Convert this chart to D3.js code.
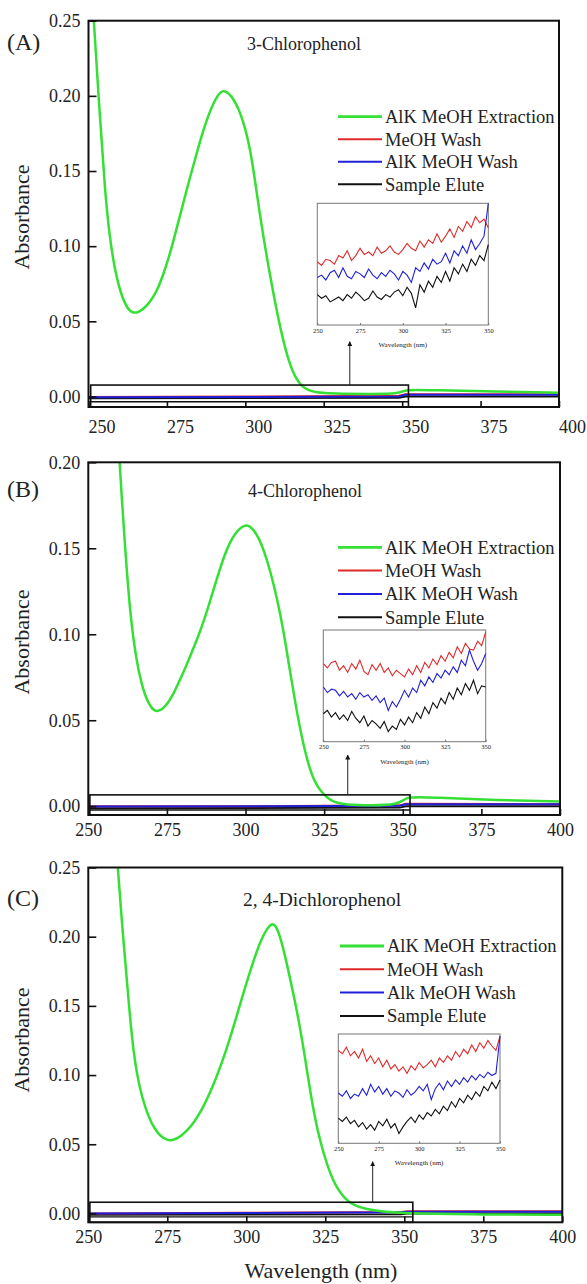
<!DOCTYPE html>
<html>
<head>
<meta charset="utf-8">
<script src="https://cdn.jsdelivr.net/npm/d3@7"></script>
<style>
  body { margin: 0; background: #fff; }
  svg text { font-family: "Liberation Serif", "Times New Roman", serif; fill: #222; }
</style>
</head>
<body>
<svg id="chart" width="587" height="1284" font-family="Liberation Serif, Times New Roman, serif"></svg>
<script>
// ---- data ----
const xTicks = [250, 275, 300, 325, 350, 375, 400]
const yTicksA = [0, 0.05, 0.10, 0.15, 0.20, 0.25]
const yTicksB = [0, 0.05, 0.10, 0.15, 0.20]
const yTicksC = [0, 0.05, 0.10, 0.15, 0.20, 0.25]
const insetTicks = [250, 275, 300, 325, 350]

const namesAB = ['AlK MeOH Extraction', 'MeOH Wash', 'AlK MeOH Wash', 'Sample Elute']
const namesC = ['AlK MeOH Extraction', 'MeOH Wash', 'Alk MeOH Wash', 'Sample Elute']

// AlK MeOH Extraction curves
const waveA = [250.5, 251.7, 253.5, 255.3, 256.8, 258.5, 260.5, 262.5, 264.3, 266, 268, 270, 272, 274, 276, 278, 280, 282, 284, 286, 288, 290, 291.5, 292.7, 294, 295.5, 297, 298.5, 300, 301.5, 303, 304.5, 306, 307.5, 309, 310.5, 312, 313.5, 315, 316.5, 318, 320, 322.5, 325, 330, 340, 349.5, 350.5, 360, 380, 400]
const extA = [0.29, 0.25, 0.19, 0.135, 0.105, 0.083, 0.067, 0.058, 0.0553, 0.0562, 0.059, 0.064, 0.071, 0.082, 0.095, 0.111, 0.127, 0.143, 0.158, 0.173, 0.186, 0.196, 0.2012, 0.2035, 0.2028, 0.200, 0.195, 0.188, 0.178, 0.165, 0.145, 0.123, 0.103, 0.085, 0.068, 0.052, 0.038, 0.026, 0.017, 0.011, 0.0068, 0.0042, 0.0028, 0.0022, 0.0018, 0.0016, 0.0018, 0.0048, 0.0042, 0.0032, 0.0025]

const waveB = [258.8, 259.9, 261.7, 263.3, 265, 267, 269, 271, 273, 275, 277, 279, 281, 283, 285, 287, 289, 291, 293, 295, 297, 299, 300.5, 302, 304, 306, 308, 310, 312, 314, 316, 318, 320, 322, 324, 326, 328, 331, 336, 349.5, 350.5, 360, 380, 400]
const extB = [0.24, 0.20, 0.15, 0.112, 0.088, 0.070, 0.060, 0.055, 0.0555, 0.059, 0.065, 0.073, 0.081, 0.090, 0.099, 0.109, 0.121, 0.133, 0.1445, 0.1535, 0.1595, 0.1628, 0.1637, 0.162, 0.157, 0.148, 0.136, 0.121, 0.103, 0.080, 0.058, 0.039, 0.024, 0.014, 0.0085, 0.0048, 0.0025, 0.0012, 0.0005, 0.0005, 0.0060, 0.0050, 0.0035, 0.0027]

const waveC = [258.5, 259.3, 261, 262.7, 264, 265.5, 267, 269, 271, 273, 275, 276.5, 278.5, 281, 283.5, 286, 288.5, 291, 293.5, 296, 298.5, 301, 303, 305, 306.8, 308, 309.3, 310.8, 312.5, 314.5, 316.5, 318.5, 320.5, 322.5, 324.5, 326.5, 328.5, 331, 334, 338, 343, 350, 375, 400]
const extC = [0.28, 0.25, 0.20, 0.155, 0.122, 0.099, 0.084, 0.070, 0.061, 0.0555, 0.053, 0.0528, 0.0545, 0.059, 0.066, 0.075, 0.087, 0.101, 0.117, 0.135, 0.155, 0.1735, 0.1875, 0.1995, 0.2065, 0.2095, 0.2085, 0.1995, 0.184, 0.163, 0.141, 0.114, 0.084, 0.060, 0.043, 0.029, 0.019, 0.011, 0.0058, 0.003, 0.0013, 0.0, -0.0008, -0.001]

// washes / elute near zero in the main plots
const baseWave = [250, 300, 349, 351, 400]
const redA = [-0.0003, 0.0, 0.0005, 0.0015, 0.0015]
const blueA = [-0.0005, -0.0003, 0.0, 0.0012, 0.0012]
const blackA = [-0.0012, -0.001, -0.0008, 0.0, 0.0]
const redB = [0.0, 0.0, 0.0005, 0.0015, 0.0012]
const blueB = [-0.0002, 0.0, 0.0003, 0.0012, 0.0012]
const blackB = [-0.0012, -0.001, -0.0008, 0.0, 0.0]
const redC = [0.0, 0.0005, 0.001, 0.0015, 0.0015]
const blueC = [0.0, 0.0003, 0.0008, 0.0013, 0.0013]
const blackC = [-0.001, -0.0008, -0.0005, 0.0, 0.0]

// insets (relative height of the inset box, 0-100)
const insetWave = [250, 252.5, 255, 257.5, 260, 262.5, 265, 267.5, 270, 272.5, 275, 277.5, 280, 282.5, 285, 287.5, 290, 292.5, 295, 297.5, 300, 302.5, 305, 307.5, 310, 312.5, 315, 317.5, 320, 322.5, 325, 327.5, 330, 332.5, 335, 337.5, 340, 342.5, 345, 347.5, 350]
const insRedA = [52, 49, 54, 53, 50, 57, 55, 61, 53, 57, 63, 58, 60, 57, 64, 59, 61, 65, 60, 58, 62, 67, 63, 61, 69, 64, 70, 67, 75, 68, 73, 79, 72, 81, 77, 85, 80, 89, 84, 87, 80]
const insBlueA = [39, 41, 37, 43, 45, 39, 47, 40, 38, 44, 42, 39, 46, 41, 38, 43, 40, 45, 42, 37, 44, 41, 35, 47, 44, 51, 46, 54, 50, 52, 59, 51, 61, 57, 65, 59, 70, 62, 67, 73, 100]
const insBlackA = [25, 22, 24, 19, 21, 23, 20, 25, 22, 27, 24, 20, 22, 28, 23, 21, 25, 23, 27, 29, 24, 31, 26, 14, 33, 27, 36, 31, 40, 35, 44, 36, 47, 42, 50, 44, 54, 49, 57, 53, 66]
const insRedB = [70, 66, 71, 72, 64, 68, 62, 70, 65, 73, 63, 60, 69, 64, 70, 62, 66, 59, 64, 61, 58, 65, 60, 68, 62, 71, 66, 74, 69, 77, 72, 80, 75, 85, 79, 88, 83, 82, 90, 86, 98]
const insBlueB = [49, 44, 47, 46, 41, 45, 40, 43, 38, 44, 40, 42, 37, 41, 35, 39, 28, 36, 31, 38, 46, 40, 48, 44, 55, 50, 58, 53, 61, 57, 64, 60, 67, 62, 73, 68, 82, 72, 64, 70, 79]
const insBlackB = [25, 28, 22, 26, 20, 24, 19, 27, 21, 17, 23, 14, 19, 16, 12, 18, 9, 14, 11, 20, 15, 22, 17, 26, 21, 31, 25, 35, 30, 39, 34, 44, 38, 48, 42, 52, 46, 55, 43, 50, 49]
const insRedC = [85, 82, 88, 80, 84, 78, 86, 75, 80, 73, 78, 70, 76, 68, 72, 66, 70, 64, 71, 67, 74, 69, 72, 76, 70, 78, 74, 80, 76, 84, 79, 86, 82, 90, 84, 92, 87, 94, 89, 85, 98]
const insBlueC = [46, 43, 48, 41, 45, 43, 50, 44, 54, 47, 52, 45, 50, 43, 48, 46, 42, 49, 44, 47, 52, 48, 54, 40, 50, 55, 49, 57, 52, 58, 54, 60, 56, 62, 58, 63, 60, 65, 62, 64, 98]
const insBlackC = [23, 20, 24, 18, 21, 15, 19, 13, 17, 12, 20, 16, 22, 14, 18, 9, 15, 20, 24, 19, 26, 22, 28, 25, 31, 27, 34, 30, 38, 33, 41, 37, 44, 40, 47, 43, 52, 48, 56, 50, 58]

// ---- layout ----
const colors = ['#35e035', '#e02a2a', '#2020d8', '#111111']
const serif = '"Liberation Serif", "Times New Roman", serif'

const panels = [
  { letter: '(A)', letterY: 50, title: '3-Chlorophenol', titleX: 247, titleY: 50, titleSize: 18,
    left: 88.5, right: 559, top: 20.7, bottom: 407, yMin: -0.007, yMax: 0.25, yTicks: yTicksA,
    labelShift: [13, 5], ylabY: 217,
    ext: [waveA, extA], base: [redA, blueA, blackA], names: namesAB,
    legendX: 338, legendY: 116.7, legendGap: 22.5,
    box: [250.7, 352, -0.0035, 0.0076], arrowWl: 333.3, arrowTip: 341.7,
    inset: [317.3, 488.3, 203.3, 325], ins: [insRedA, insBlueA, insBlackA] },
  { letter: '(B)', letterY: 497, title: '4-Chlorophenol', titleX: 248, titleY: 497, titleSize: 18,
    left: 88.3, right: 560, top: 462.3, bottom: 815, yMin: -0.0051, yMax: 0.20, yTicks: yTicksB,
    labelShift: [0, 0], ylabY: 642,
    ext: [waveB, extB], base: [redB, blueB, blackB], names: namesAB,
    legendX: 338, legendY: 547.3, legendGap: 23.3,
    box: [250.5, 352.3, -0.0022, 0.0066], arrowWl: 332.5, arrowTip: 755,
    inset: [323.3, 485.7, 630, 741.7], ins: [insRedB, insBlueB, insBlackB] },
  { letter: '(C)', letterY: 906, title: '2, 4-Dichlorophenol', titleX: 243, titleY: 906, titleSize: 19.5,
    left: 88.3, right: 562.3, top: 867.5, bottom: 1222.3, yMin: -0.0064, yMax: 0.25, yTicks: yTicksC,
    labelShift: [0, 0], ylabY: 1040,
    ext: [waveC, extC], base: [redC, blueC, blackC], names: namesC,
    legendX: 340, legendY: 946, legendGap: 23.3,
    box: [250.5, 352.7, -0.0025, 0.0081], arrowWl: 340, arrowTip: 1161.7,
    inset: [338.3, 500, 1034, 1143.3], ins: [insRedC, insBlueC, insBlackC] }
]

var svg = d3.select('#chart')

svg.append('defs').append('marker')
    .attr('id', 'arrowhead')
    .attr('viewBox', '0 0 10 10')
    .attr('refX', 9).attr('refY', 5)
    .attr('markerWidth', 5).attr('markerHeight', 6)
    .attr('orient', 'auto')
  .append('path')
    .attr('d', 'M0,0 L10,5 L0,10 Z')
    .attr('fill', '#111')

panels.forEach(function (p, i) {
    var x = d3.scaleLinear().domain([250, 400]).range([p.left, p.right])
    var y = d3.scaleLinear().domain([p.yMin, p.yMax]).range([p.bottom, p.top])
    var g = svg.append('g')

    g.append('clipPath').attr('id', 'clip' + i)
      .append('rect')
        .attr('x', p.left).attr('y', p.top)
        .attr('width', p.right - p.left).attr('height', p.bottom - p.top)

    // data lines
    var plot = g.append('g').attr('clip-path', 'url(#clip' + i + ')')
    var line = d3.line().x(d => x(d[0])).y(d => y(d[1]))

    var order = [2, 0, 1]   // black, red, then blue on top
    order.forEach(function (k) {
        plot.append('path')
            .datum(baseWave.map((w, j) => [w, p.base[k][j]]))
            .attr('d', line)
            .attr('fill', 'none')
            .attr('stroke', colors[k + 1])
            .attr('stroke-width', 2)
    })

    plot.append('path')
        .datum(p.ext[0].map((w, j) => [w, p.ext[1][j]]))
        .attr('d', line.curve(d3.curveBasis))
        .attr('fill', 'none')
        .attr('stroke', colors[0])
        .attr('stroke-width', 2.5)

    // frame
    g.append('rect')
        .attr('x', p.left).attr('y', p.top)
        .attr('width', p.right - p.left).attr('height', p.bottom - p.top)
        .attr('fill', 'none').attr('stroke', '#111').attr('stroke-width', 2)

    // axes
    var yAxis = d3.axisLeft(y)
        .tickValues(p.yTicks)
        .tickFormat(d3.format('.2f'))
        .tickSizeInner(-8).tickSizeOuter(0).tickPadding(8)
    var ya = g.append('g').attr('transform', 'translate(' + p.left + ',0)').call(yAxis)

    var xAxis = d3.axisBottom(x)
        .tickValues(xTicks)
        .tickSizeInner(-6).tickSizeOuter(0).tickPadding(8)
    var xa = g.append('g').attr('transform', 'translate(0,' + p.bottom + ')').call(xAxis)
    xa.selectAll('text').attr('transform', 'translate(' + p.labelShift[0] + ',' + p.labelShift[1] + ')')

    ;[ya, xa].forEach(function (a) {
        a.attr('font-family', serif)
        a.select('.domain').remove()
        a.selectAll('line').attr('stroke', '#111').attr('stroke-width', 1.6)
        a.selectAll('text').attr('font-size', 18).attr('fill', '#222')
    })

    // zoom box + arrow
    g.append('rect')
        .attr('x', x(p.box[0])).attr('y', y(p.box[3]))
        .attr('width', x(p.box[1]) - x(p.box[0]))
        .attr('height', p.bottom - y(p.box[3]))
        .attr('fill', 'none').attr('stroke', '#111').attr('stroke-width', 1.6)
    g.append('line')
        .attr('x1', x(p.box[0])).attr('x2', x(p.box[1]))
        .attr('y1', y(p.box[2])).attr('y2', y(p.box[2]))
        .attr('stroke', '#111').attr('stroke-width', 1.4)
    g.append('line')
        .attr('x1', x(p.arrowWl)).attr('x2', x(p.arrowWl))
        .attr('y1', y(p.box[3])).attr('y2', p.arrowTip)
        .attr('stroke', '#222').attr('stroke-width', 1)
        .attr('marker-end', 'url(#arrowhead)')

    // inset
    var ix = d3.scaleLinear().domain([250, 350]).range([p.inset[0], p.inset[1]])
    var iy = d3.scaleLinear().domain([0, 100]).range([p.inset[3], p.inset[2]])
    var ig = g.append('g')
    ig.append('rect')
        .attr('x', p.inset[0]).attr('y', p.inset[2])
        .attr('width', p.inset[1] - p.inset[0]).attr('height', p.inset[3] - p.inset[2])
        .attr('fill', '#fff').attr('stroke', '#777').attr('stroke-width', 1)
    var iline = d3.line().x((d, j) => ix(insetWave[j])).y(d => iy(d))
    p.ins.forEach(function (s, k) {
        ig.append('path').datum(s)
            .attr('d', iline)
            .attr('fill', 'none')
            .attr('stroke', colors[k + 1])
            .attr('stroke-width', 1.1)
    })
    var ia = ig.append('g').attr('transform', 'translate(0,' + p.inset[3] + ')')
        .call(d3.axisBottom(ix).tickValues(insetTicks).tickSizeInner(-2).tickSizeOuter(0).tickPadding(3))
    ia.attr('font-family', serif)
    ia.select('.domain').remove()
    ia.selectAll('line').attr('stroke', '#777')
    ia.selectAll('text').attr('font-size', 6.5).attr('fill', '#444')
    ig.append('text')
        .attr('x', (p.inset[0] + p.inset[1]) / 2).attr('y', p.inset[3] + 22)
        .attr('text-anchor', 'middle').attr('font-size', 7).attr('fill', '#444')
        .text('Wavelength (nm)')

    // legend
    p.names.forEach(function (n, k) {
        var ly = p.legendY + k * p.legendGap
        g.append('line')
            .attr('x1', p.legendX).attr('x2', p.legendX + 44)
            .attr('y1', ly).attr('y2', ly)
            .attr('stroke', colors[k]).attr('stroke-width', k == 0 ? 2.8 : 2)
        g.append('text')
            .attr('x', p.legendX + 47).attr('y', ly).attr('dy', '0.35em')
            .attr('font-size', 18.5)
            .text(n)
    })

    // titles
    g.append('text')
        .attr('x', p.titleX).attr('y', p.titleY)
        .attr('font-size', p.titleSize)
        .text(p.title)
    g.append('text')
        .attr('x', 7).attr('y', p.letterY)
        .attr('font-size', 24)
        .text(p.letter)
    g.append('text')
        .attr('transform', 'translate(29,' + p.ylabY + ') rotate(-90)')
        .attr('text-anchor', 'middle')
        .attr('font-size', 22)
        .text('Absorbance')
})

svg.append('text')
    .attr('x', 321).attr('y', 1278)
    .attr('text-anchor', 'middle')
    .attr('font-size', 22)
    .text('Wavelength (nm)')
</script>
</body>
</html>
